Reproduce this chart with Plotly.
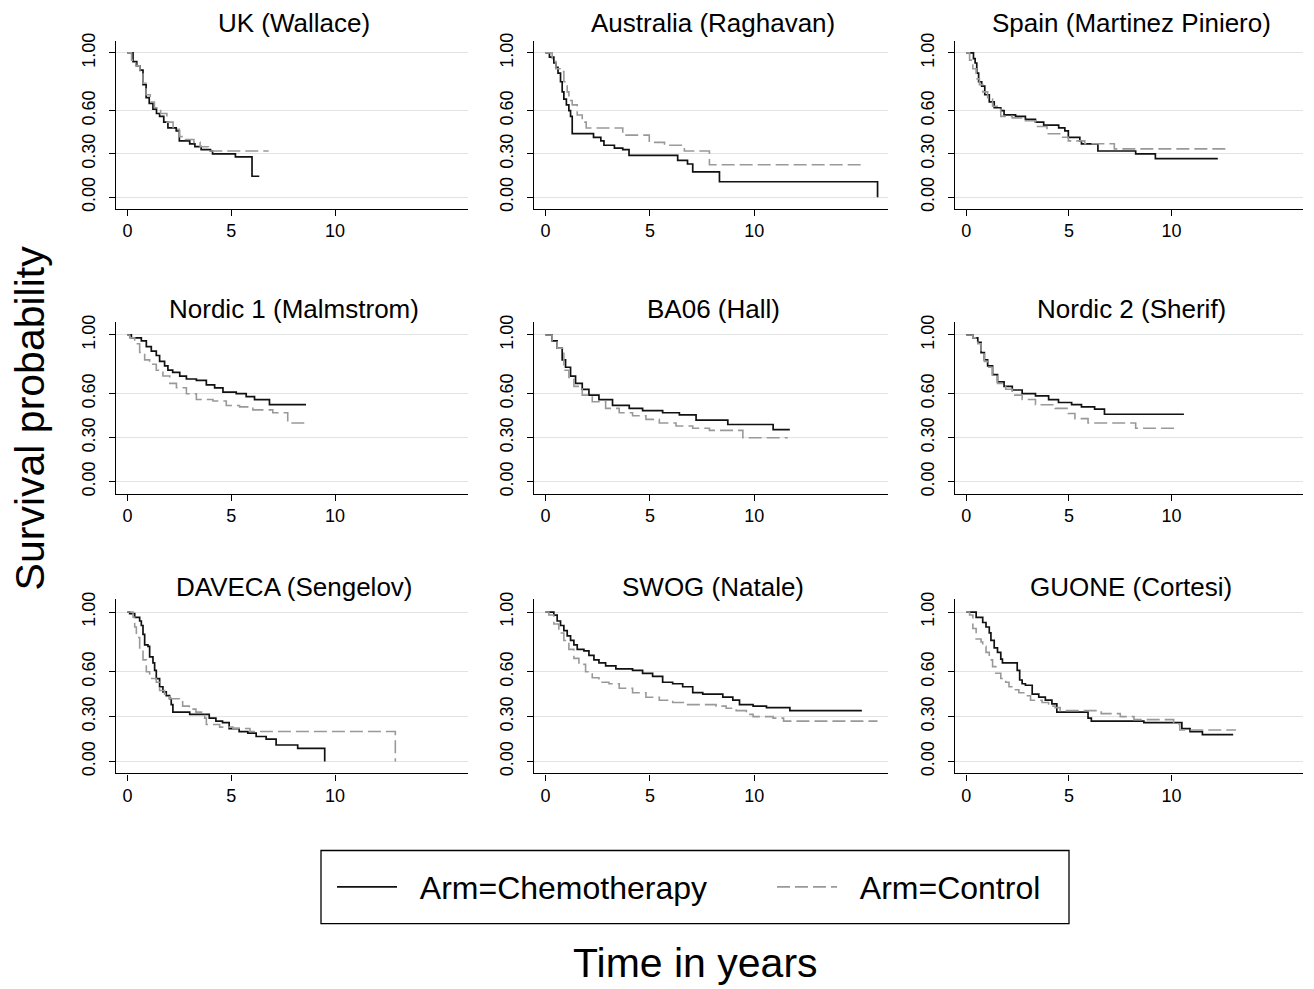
import plotly.graph_objects as go

W, H = 1314, 989

study_titles = ["UK (Wallace)", "Australia (Raghavan)", "Spain (Martinez Piniero)",
                "Nordic 1 (Malmstrom)", "BA06 (Hall)", "Nordic 2 (Sherif)",
                "DAVECA (Sengelov)", "SWOG (Natale)", "GUONE (Cortesi)"]
arm_names = ["Arm=Chemotherapy", "Arm=Control"]
x_ticks = [0, 5, 10]
y_ticks = [0.0, 0.3, 0.6, 1.0]
y_ticktext = ["0.00", "0.30", "0.60", "1.00"]

# ---- UK (Wallace)
uk_chemo_t = [0, 0.27, 0.45, 0.6, 0.75, 0.9, 1.05, 1.23, 1.4, 1.55, 1.75, 1.95, 2.35, 2.5, 3.0, 3.25, 3.55, 4.0, 4.1, 5.2, 6.0, 6.35]
uk_chemo_s = [1.0, 0.94, 0.91, 0.88, 0.78, 0.69, 0.65, 0.61, 0.58, 0.56, 0.52, 0.48, 0.46, 0.39, 0.37, 0.35, 0.33, 0.32, 0.30, 0.28, 0.145, 0.145]
uk_ctrl_t = [0, 0.2, 0.4, 0.6, 0.75, 0.9, 1.1, 1.3, 1.6, 1.9, 2.2, 2.5, 2.8, 3.2, 3.5, 3.9, 6.8]
uk_ctrl_s = [1.0, 0.95, 0.91, 0.86, 0.79, 0.71, 0.66, 0.62, 0.58, 0.52, 0.47, 0.42, 0.40, 0.38, 0.35, 0.32, 0.32]

# ---- Australia (Raghavan)
au_chemo_t = [0, 0.19, 0.4, 0.5, 0.6, 0.72, 0.8, 0.88, 1.0, 1.12, 1.2, 1.28, 2.3, 2.65, 2.8, 3.3, 3.7, 4.0, 6.33, 6.8, 7.05, 8.33, 15.9]
au_chemo_s = [1.0, 0.97, 0.93, 0.90, 0.86, 0.80, 0.73, 0.68, 0.64, 0.60, 0.56, 0.44, 0.415, 0.39, 0.36, 0.34, 0.33, 0.29, 0.255, 0.23, 0.175, 0.107, 0.0]
au_ctrl_t = [0, 0.32, 0.5, 0.7, 0.88, 1.04, 1.12, 1.28, 1.52, 1.76, 1.95, 3.7, 4.97, 5.7, 6.65, 7.85, 15.2]
au_ctrl_s = [1.0, 0.94, 0.89, 0.87, 0.80, 0.73, 0.67, 0.64, 0.57, 0.52, 0.48, 0.43, 0.38, 0.36, 0.32, 0.225, 0.225]

# ---- Spain (Martinez Piniero)
es_chemo_t = [0, 0.35, 0.43, 0.51, 0.6, 0.75, 0.9, 1.12, 1.36, 1.68, 1.84, 2.4, 2.88, 3.37, 3.77, 4.5, 4.8, 4.97, 5.53, 5.61, 6.41, 8.25, 9.21, 12.25]
es_chemo_s = [1.0, 0.96, 0.93, 0.86, 0.80, 0.77, 0.71, 0.66, 0.62, 0.60, 0.57, 0.56, 0.54, 0.52, 0.50, 0.48, 0.46, 0.415, 0.39, 0.37, 0.32, 0.30, 0.267, 0.267]
es_ctrl_t = [0, 0.16, 0.32, 0.48, 0.64, 0.8, 1.04, 1.28, 1.68, 2.24, 2.88, 3.37, 3.93, 4.65, 4.97, 5.77, 7.21, 12.66]
es_ctrl_s = [1.0, 0.95, 0.89, 0.82, 0.78, 0.73, 0.68, 0.63, 0.56, 0.55, 0.53, 0.49, 0.44, 0.415, 0.39, 0.37, 0.335, 0.335]

# ---- Nordic 1 (Malmstrom)
n1_chemo_t = [0, 0.19, 0.67, 0.91, 1.15, 1.39, 1.55, 1.79, 1.95, 2.18, 2.52, 2.84, 3.32, 3.8, 4.2, 4.6, 5.24, 5.72, 6.12, 6.84, 8.6]
n1_chemo_s = [1.0, 0.98, 0.96, 0.92, 0.89, 0.86, 0.82, 0.79, 0.76, 0.745, 0.72, 0.70, 0.69, 0.66, 0.64, 0.61, 0.60, 0.58, 0.56, 0.525, 0.525]
n1_ctrl_t = [0, 0.11, 0.35, 0.59, 0.83, 1.07, 1.39, 1.71, 2.04, 2.36, 2.84, 3.32, 4.12, 4.76, 5.4, 6.04, 7.0, 7.72, 8.7]
n1_ctrl_s = [1.0, 0.98, 0.94, 0.88, 0.83, 0.80, 0.76, 0.72, 0.67, 0.64, 0.60, 0.56, 0.55, 0.52, 0.51, 0.49, 0.47, 0.40, 0.40]

# ---- BA06 (Hall)
ba_chemo_t = [0, 0.32, 0.56, 0.8, 0.96, 1.2, 1.44, 1.76, 2.08, 2.56, 3.21, 4.01, 4.65, 5.61, 6.41, 7.21, 8.73, 10.9, 11.7]
ba_chemo_s = [1.0, 0.96, 0.91, 0.83, 0.78, 0.72, 0.67, 0.63, 0.59, 0.56, 0.52, 0.50, 0.485, 0.47, 0.455, 0.42, 0.39, 0.355, 0.355]
ba_ctrl_t = [0, 0.32, 0.56, 0.88, 1.12, 1.36, 1.76, 2.24, 2.88, 3.53, 4.17, 4.81, 5.45, 6.25, 7.05, 7.85, 9.45, 11.6]
ba_ctrl_s = [1.0, 0.96, 0.91, 0.76, 0.71, 0.65, 0.59, 0.545, 0.50, 0.47, 0.45, 0.425, 0.40, 0.38, 0.365, 0.35, 0.30, 0.30]

# ---- Nordic 2 (Sherif)
n2_chemo_t = [0, 0.32, 0.56, 0.72, 0.88, 1.04, 1.28, 1.52, 1.84, 2.24, 2.72, 3.37, 4.01, 4.49, 5.13, 5.61, 6.25, 6.73, 10.6]
n2_chemo_s = [1.0, 0.98, 0.95, 0.88, 0.83, 0.79, 0.73, 0.68, 0.65, 0.625, 0.60, 0.585, 0.56, 0.54, 0.525, 0.51, 0.495, 0.46, 0.46]
n2_ctrl_t = [0, 0.32, 0.56, 0.72, 0.88, 1.04, 1.28, 1.52, 1.92, 2.24, 2.72, 3.37, 4.33, 4.97, 5.29, 5.93, 8.25, 10.3]
n2_ctrl_s = [1.0, 0.98, 0.94, 0.87, 0.82, 0.78, 0.72, 0.67, 0.63, 0.59, 0.56, 0.525, 0.50, 0.465, 0.43, 0.40, 0.365, 0.365]

# ---- DAVECA (Sengelov)
dv_chemo_t = [0, 0.11, 0.35, 0.59, 0.67, 0.75, 0.83, 0.99, 1.07, 1.23, 1.31, 1.39, 1.55, 1.71, 1.87, 2.03, 2.11, 2.19, 3.0, 3.94, 4.26, 4.58, 4.9, 5.38, 5.8, 6.2, 6.68, 7.16, 8.2, 9.5]
dv_chemo_s = [1.0, 0.99, 0.965, 0.94, 0.91, 0.85, 0.78, 0.77, 0.70, 0.66, 0.61, 0.555, 0.50, 0.465, 0.44, 0.42, 0.38, 0.33, 0.315, 0.29, 0.27, 0.26, 0.22, 0.20, 0.19, 0.167, 0.15, 0.11, 0.087, 0.0]
dv_ctrl_t = [0, 0.27, 0.35, 0.43, 0.59, 0.75, 0.91, 1.07, 1.39, 1.55, 1.79, 2.03, 2.5, 2.66, 2.98, 3.3, 3.72, 3.8, 4.44, 5.08, 5.9, 12.9]
dv_ctrl_s = [1.0, 0.965, 0.90, 0.83, 0.75, 0.68, 0.60, 0.555, 0.53, 0.475, 0.45, 0.42, 0.40, 0.37, 0.35, 0.33, 0.29, 0.247, 0.23, 0.22, 0.20, 0.0]

# ---- SWOG (Natale)
sw_chemo_t = [0, 0.4, 0.56, 0.72, 0.88, 1.04, 1.2, 1.36, 1.52, 1.84, 2.08, 2.32, 2.56, 2.88, 3.37, 4.17, 4.65, 5.13, 5.61, 6.09, 6.57, 7.05, 7.53, 8.49, 8.97, 9.29, 9.94, 10.58, 11.7, 15.15]
sw_chemo_s = [1.0, 0.98, 0.94, 0.91, 0.875, 0.84, 0.81, 0.78, 0.75, 0.74, 0.71, 0.68, 0.66, 0.64, 0.62, 0.61, 0.59, 0.57, 0.53, 0.52, 0.50, 0.46, 0.45, 0.43, 0.41, 0.38, 0.37, 0.36, 0.34, 0.34]
sw_ctrl_t = [0, 0.16, 0.4, 0.64, 0.88, 1.12, 1.36, 1.6, 1.92, 2.24, 2.56, 3.04, 3.53, 4.17, 4.81, 5.45, 6.09, 6.73, 8.17, 8.65, 9.13, 9.62, 9.94, 10.9, 11.4, 15.9]
sw_ctrl_s = [1.0, 0.98, 0.92, 0.86, 0.81, 0.75, 0.69, 0.65, 0.60, 0.56, 0.53, 0.52, 0.49, 0.46, 0.43, 0.41, 0.395, 0.38, 0.37, 0.356, 0.34, 0.315, 0.30, 0.29, 0.27, 0.27]

# ---- GUONE (Cortesi)
gu_chemo_t = [0, 0.48, 0.8, 0.96, 1.12, 1.2, 1.36, 1.52, 1.68, 1.76, 2.48, 2.6, 2.72, 2.88, 3.21, 3.53, 3.85, 4.17, 4.41, 5.93, 6.09, 8.65, 10.5, 10.9, 11.5, 13.0]
gu_chemo_s = [1.0, 0.965, 0.93, 0.90, 0.86, 0.81, 0.76, 0.73, 0.685, 0.66, 0.61, 0.545, 0.52, 0.51, 0.45, 0.43, 0.41, 0.385, 0.33, 0.29, 0.27, 0.26, 0.22, 0.20, 0.18, 0.18]
gu_ctrl_t = [0, 0.16, 0.32, 0.48, 0.72, 0.8, 0.96, 1.12, 1.28, 1.44, 1.68, 1.92, 2.08, 2.32, 2.56, 2.8, 3.13, 3.69, 4.01, 4.33, 4.57, 6.57, 7.5, 8.17, 10.1, 10.4, 13.1]
gu_ctrl_s = [1.0, 0.98, 0.89, 0.82, 0.80, 0.77, 0.73, 0.68, 0.635, 0.59, 0.555, 0.53, 0.50, 0.48, 0.46, 0.44, 0.41, 0.395, 0.37, 0.36, 0.34, 0.32, 0.30, 0.28, 0.25, 0.21, 0.205]

panels = [
    (uk_chemo_t, uk_chemo_s, uk_ctrl_t, uk_ctrl_s),
    (au_chemo_t, au_chemo_s, au_ctrl_t, au_ctrl_s),
    (es_chemo_t, es_chemo_s, es_ctrl_t, es_ctrl_s),
    (n1_chemo_t, n1_chemo_s, n1_ctrl_t, n1_ctrl_s),
    (ba_chemo_t, ba_chemo_s, ba_ctrl_t, ba_ctrl_s),
    (n2_chemo_t, n2_chemo_s, n2_ctrl_t, n2_ctrl_s),
    (dv_chemo_t, dv_chemo_s, dv_ctrl_t, dv_ctrl_s),
    (sw_chemo_t, sw_chemo_s, sw_ctrl_t, sw_ctrl_s),
    (gu_chemo_t, gu_chemo_s, gu_ctrl_t, gu_ctrl_s),
]

FONT = "Liberation Sans, Arial, Helvetica, sans-serif"
NB = "\u00a0"
col_px = [(116, 468), (534, 888), (955, 1303)]
row_px = [(33, 203), (318, 491), (598, 774)]
title_y_px = [15, 304, 586]

fig = go.Figure()
layout = {}
annotations = []
for i, (ct, cs, kt, ks) in enumerate(panels):
    r, c = divmod(i, 3)
    xa = "x" if i == 0 else f"x{i+1}"
    ya = "y" if i == 0 else f"y{i+1}"
    fig.add_trace(go.Scatter(x=ct, y=cs, mode="lines", name=NB * 2 + arm_names[0],
                             line=dict(shape="hv", color="#111111", width=1.7),
                             xaxis=xa, yaxis=ya, legendgroup="chemo", showlegend=(i == 0),
                             legendrank=1, hoverinfo="skip"))
    fig.add_trace(go.Scatter(x=kt, y=ks, mode="lines", name=NB * 2 + arm_names[1],
                             line=dict(shape="hv", color="#999999", width=1.6, dash="13px,5px"),
                             xaxis=xa, yaxis=ya, legendgroup="ctrl", showlegend=(i == 0),
                             legendrank=2, hoverinfo="skip"))
    x0, x1 = col_px[c]
    y0, y1 = row_px[r]
    xkey = "xaxis" if i == 0 else f"xaxis{i+1}"
    ykey = "yaxis" if i == 0 else f"yaxis{i+1}"
    layout[xkey] = dict(domain=[x0 / W, x1 / W], anchor=ya, range=[-0.55, 16.4],
                        tickvals=x_ticks, showgrid=False, zeroline=False,
                        showline=True, linecolor="black", linewidth=1.3,
                        ticks="outside", ticklen=6, tickwidth=1.2, tickcolor="black",
                        tickfont=dict(family=FONT, size=18, color="black"))
    layout[ykey] = dict(domain=[1 - y1 / H, 1 - y0 / H], anchor=xa, range=[-0.08, 1.085],
                        tickvals=y_ticks, ticktext=y_ticktext, tickangle=-90,
                        showgrid=True, gridcolor="#e2e4e4", gridwidth=1.2, zeroline=False,
                        showline=True, linecolor="black", linewidth=1.3,
                        ticks="outside", ticklen=6, tickwidth=1.2, tickcolor="black",
                        ticklabelstandoff=7,
                        tickfont=dict(family=FONT, size=18, color="black"))
    annotations.append(dict(text=study_titles[i], xref="paper", yref="paper",
                            x=(x0 + x1) / 2 / W + 2 / W, y=1 - title_y_px[r] / H,
                            xanchor="center", yanchor="middle", showarrow=False,
                            font=dict(family=FONT, size=26, color="black")))

annotations.append(dict(text="Survival probability", xref="paper", yref="paper",
                        x=30 / W, y=1 - 415 / H, textangle=-90, showarrow=False,
                        xanchor="center", yanchor="middle",
                        font=dict(family=FONT, size=41, color="black")))
annotations.append(dict(text="Time in years", xref="paper", yref="paper",
                        x=695 / W, y=1 - 966 / H, showarrow=False,
                        xanchor="center", yanchor="middle",
                        font=dict(family=FONT, size=41, color="black")))

# legend frame
shapes = [dict(type="rect", xref="paper", yref="paper",
               x0=321 / W, x1=1069 / W, y0=1 - 926 / H, y1=1 - 852 / H,
               line=dict(color="black", width=1.3), fillcolor="rgba(0,0,0,0)")]

fig.update_layout(
    width=W, height=H,
    margin=dict(l=0, r=0, t=0, b=0),
    paper_bgcolor="white", plot_bgcolor="white",
    annotations=annotations,
    shapes=shapes,
    showlegend=True,
    hovermode=False,
    legend=dict(orientation="h", x=332 / W, xanchor="left", y=1 - 889 / H, yanchor="middle",
                borderwidth=0, bgcolor="rgba(0,0,0,0)",
                font=dict(family=FONT, size=32, color="black"),
                entrywidth=365, entrywidthmode="pixels", itemwidth=60, traceorder="normal"),
    **layout,
)

post = ("document.documentElement.style.margin='0';"
        "document.body.style.margin='0';document.body.style.padding='0';"
        "document.body.style.overflow='hidden';"
        "var gd=document.getElementById('{plot_id}');"
        "gd.style.position='absolute';gd.style.left='0px';gd.style.top='0px';")

fig.write_html("out.html", config={"displayModeBar": False}, post_script=post)
